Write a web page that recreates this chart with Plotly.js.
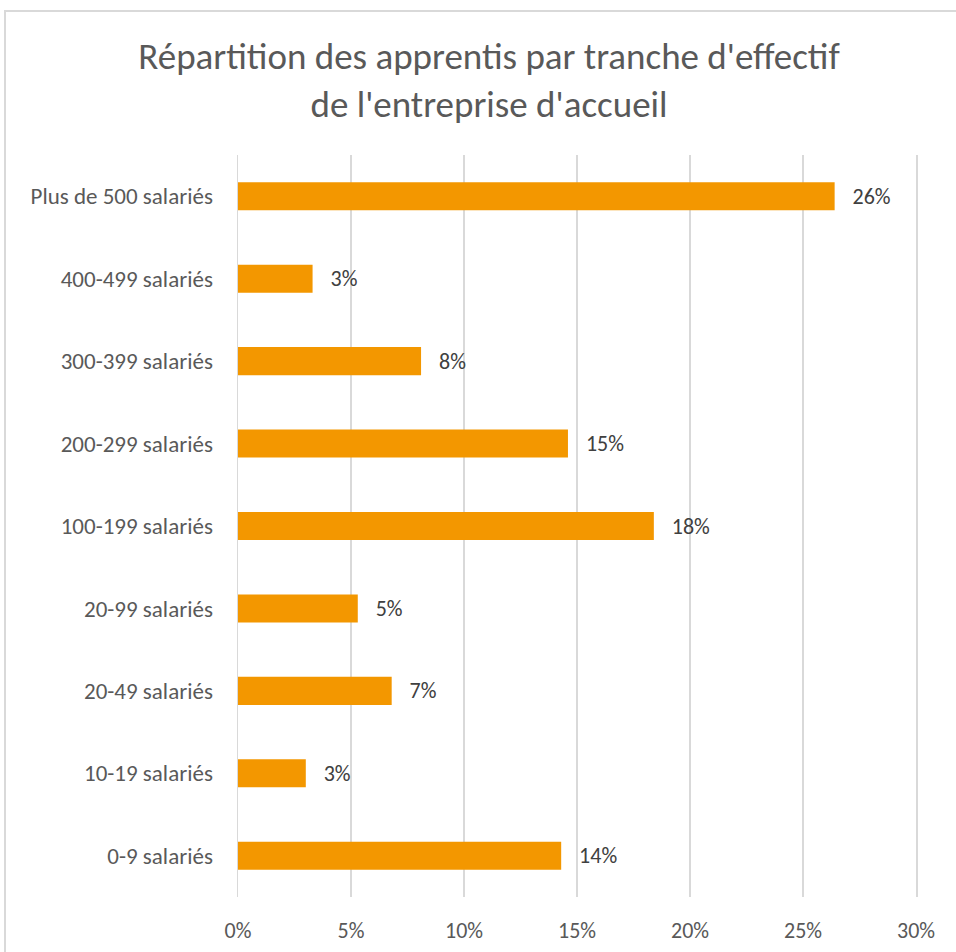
<!DOCTYPE html>
<html>
<head>
<meta charset="utf-8">
<script src="https://cdn.plot.ly/plotly-3.0.1.min.js"></script>
<style>
  body { margin: 0; background: #fff; overflow: hidden; }
  #frame { position: absolute; left: 4px; top: 10px; border: 2px solid #d9d9d9; }
  #graph { width: 966px; height: 960px; }
</style>
</head>
<body>
<div id="frame"><div id="graph"></div></div>
<script>
// catégories, du haut vers le bas
const tranches = [
  "Plus de 500 salariés",
  "400-499 salariés",
  "300-399 salariés",
  "200-299 salariés",
  "100-199 salariés",
  "20-99 salariés",
  "20-49 salariés",
  "10-19 salariés",
  "0-9 salariés"
];
// part des apprentis
const parts = [0.264, 0.033, 0.081, 0.146, 0.184, 0.053, 0.068, 0.030, 0.143];
const tickVals = [0, 0.05, 0.10, 0.15, 0.20, 0.25, 0.30];
const tickTexts = ["0%", "5%", "10%", "15%", "20%", "25%", "30%"];

const FONT = "Carlito, Lato, sans-serif";

const trace = {
  type: "bar",
  orientation: "h",
  x: parts,
  y: tranches,
  marker: { color: "#F39700" },
  texttemplate: "\u00a0\u00a0\u00a0%{x:.0%}",
  textposition: "outside",
  cliponaxis: false,
  textfont: { family: FONT, size: 22, color: "#404040" },
  hoverinfo: "none"
};

const layout = {
  title: {
    text: "Répartition des apprentis par tranche d'effectif<br>de l'entreprise d'accueil",
    font: { family: FONT, size: 37, color: "#595959" },
    x: 0.5, xref: "container",
    y: 1 - 57 / 960, yref: "container", yanchor: "top"
  },
  margin: { l: 232, r: 56, t: 143, b: 74.5 },
  paper_bgcolor: "#fff",
  plot_bgcolor: "#fff",
  showlegend: false,
  bargap: 0.66,
  xaxis: {
    range: [0, 0.30],
    tickvals: tickVals,
    ticktext: tickTexts,
    showgrid: true,
    gridcolor: "#d9d9d9",
    gridwidth: 1.5,
    zeroline: false,
    showline: false,
    ticks: "",
    ticklabelstandoff: 18,
    tickfont: { family: FONT, size: 22, color: "#595959" },
    fixedrange: true
  },
  yaxis: {
    autorange: "reversed",
    showgrid: false,
    zeroline: false,
    // traits verticaux à 0% et 30%
    showline: true,
    mirror: true,
    linecolor: "#d9d9d9",
    linewidth: 1.5,
    ticks: "",
    ticklabelstandoff: 19,
    tickfont: { family: FONT, size: 23, color: "#595959" },
    fixedrange: true
  }
};

Plotly.newPlot("graph", [trace], layout, { displayModeBar: false, staticPlot: true });
</script>
</body>
</html>
